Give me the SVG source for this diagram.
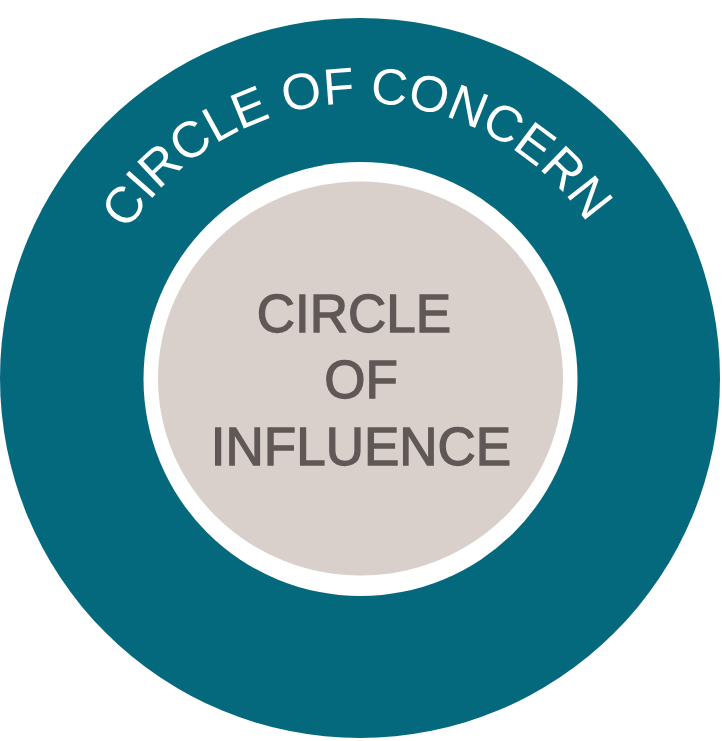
<svg xmlns="http://www.w3.org/2000/svg" width="722" height="741" viewBox="0 0 722 741">
<style>
.outer{fill:#05697e}
.ring{fill:#ffffff}
.inner{fill:#d9d0cb}
.lbl-outer{fill:#ffffff;font-family:"Liberation Sans",Arial,sans-serif;font-size:51px}
.lbl-inner{fill:#5f5856;stroke:#5f5856;stroke-width:1.3;font-family:"Liberation Sans",Arial,sans-serif;font-size:53px;text-anchor:middle}
</style>
<defs>
<path id="arc" d="M 85 378 A 275 275 0 0 1 635 378"/>
</defs>
<rect width="722" height="741" fill="#ffffff"/>
<g id="concern">
<circle class="outer" cx="360" cy="378" r="360"/>
<text class="lbl-outer"><textPath href="#arc" startOffset="427" text-anchor="middle">CIRCLE OF CONCERN</textPath></text>
</g>
<g id="influence">
<circle class="ring" cx="360.5" cy="379" r="217"/>
<ellipse class="inner" cx="360.5" cy="378.5" rx="202.5" ry="197"/>
<text class="lbl-inner" x="354" y="332">CIRCLE</text>
<text class="lbl-inner" x="361" y="398">OF</text>
<text class="lbl-inner" x="361" y="465">INFLUENCE</text>
</g>
<g id="connectors"/>
</svg>
